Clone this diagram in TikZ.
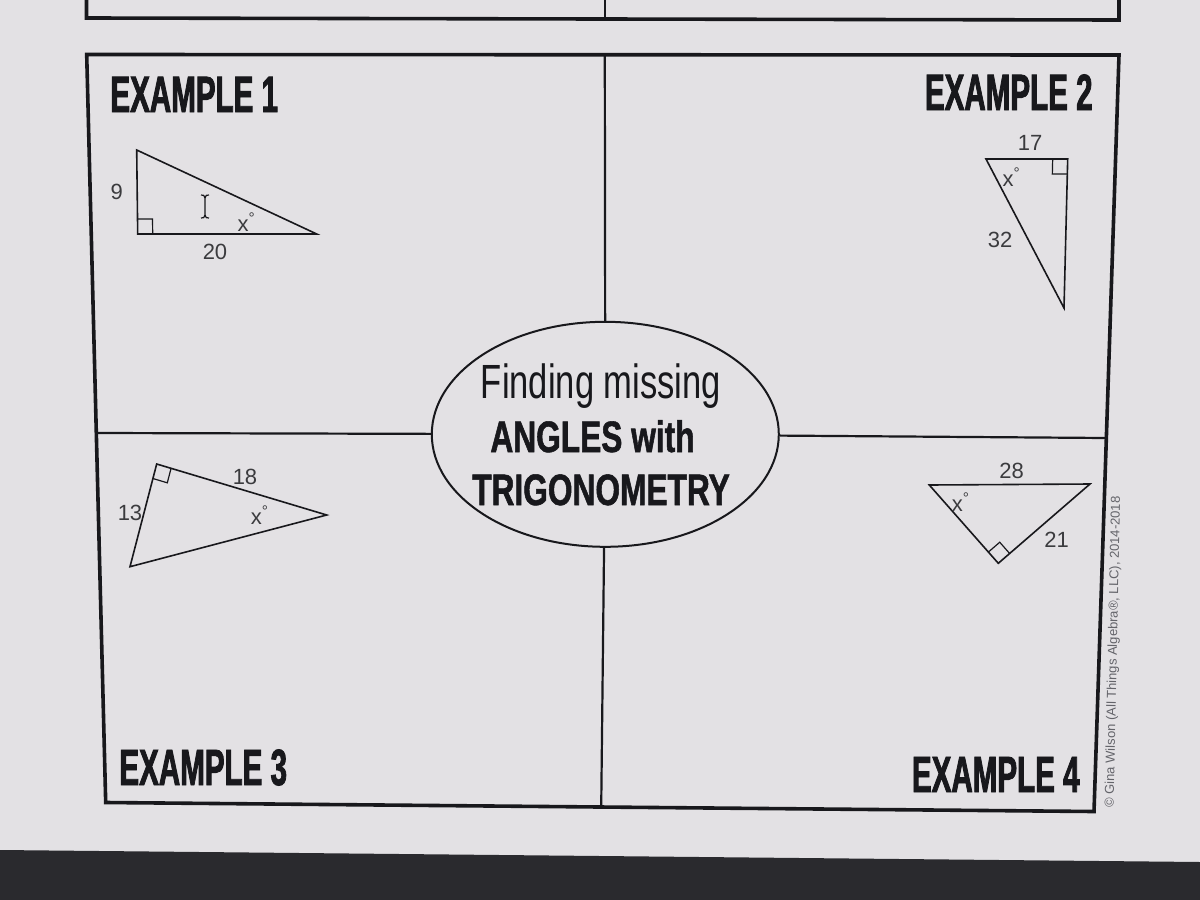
\documentclass[tikz,border=0pt]{standalone}
\usepackage{fontspec}
\setmainfont{Liberation Sans}
\newfontfamily\headfont[FakeStretch=0.58, BoldFeatures={FakeBold=1.6}]{Liberation Sans}
\newfontfamily\titlefont[FakeStretch=0.72, BoldFeatures={FakeBold=1.2}]{Liberation Sans}
\usetikzlibrary{positioning}
\usetikzlibrary{calc}
\usetikzlibrary{shapes.geometric}
\definecolor{paper}{RGB}{227,225,228}
\definecolor{ink}{RGB}{24,24,28}
\definecolor{bezel}{RGB}{42,42,46}
\definecolor{faint}{RGB}{100,100,106}

\tikzset{
  boxline/.style={draw=ink, line width=1.8pt, line join=miter},
  divline/.style={draw=ink, line width=1.1pt},
  tri/.style={draw=ink, line width=0.8pt, line join=miter},
  head/.style={font=\headfont\bfseries\fontsize{25.5}{26}\selectfont, text=ink, inner sep=0pt},
  lbl/.style={font=\fontsize{11}{11}\selectfont, text=ink!85, inner sep=0pt}
}

% right angle box: corner, end of one leg, end of the other leg
\newcommand{\ramark}[3]{%
  \coordinate (ra1) at ($(#1)!7.5pt!(#2)$);
  \coordinate (ra2) at ($(#1)!7.5pt!(#3)$);
  \draw[tri, line width=0.6pt] (ra1) -- ($(ra1)+(ra2)-(#1)$) -- (ra2);}

\begin{document}
\begin{tikzpicture}[x=0.5pt,y=0.5pt,yscale=-1,xscale=1]
\useasboundingbox (0,0) rectangle (1200,900);

%Shape: paper
\fill[paper] (0,0) rectangle (1200,900);
%Shape: screen edge
\fill[bezel] (0,850) -- (1200,862) -- (1200,900) -- (0,900) -- cycle;

%Shape: box of the page above
\draw[boxline] (86.5,-4) -- (86.5,18) -- (1119,20) -- (1119,-4);
\draw[divline] (604.6,-4) -- (604.6,19);

%Shape: main box
\coordinate (tl) at (86.7,54.5);
\coordinate (tr) at (1119,55);
\coordinate (br) at (1094,811.5);
\coordinate (bl) at (105.7,802.5);
\draw[boxline] (tl) -- (tr) -- (br) -- (bl) -- cycle;

%Shape: centre ellipse
\node (title) [ellipse, draw=ink, line width=1pt, minimum width=173.5pt, minimum height=112.5pt, inner sep=0pt] at (605.3,434.3) {};

%Shape: dividers
\coordinate (mt) at (604.8,55);
\coordinate (mb) at (601.2,808);
\coordinate (ml) at (96.3,433);
\coordinate (mr) at (1106.4,438);
\draw[divline] (mt) -- (title);
\draw[divline] (mb) -- (title);
\draw[divline] (ml) -- (title);
\draw[divline] (mr) -- (title);

% Text Node
\draw (601,398) node (tA) [anchor=base, inner sep=0pt, text=ink] {\titlefont\fontsize{24}{24}\selectfont Finding missing};
% Text Node
\draw (592.5,452) node (tB) [anchor=base, inner sep=0pt, text=ink] {\titlefont\bfseries\fontsize{22}{22}\selectfont ANGLES with};
% Text Node
\draw (601,505) node (tC) [anchor=base, inner sep=0pt, text=ink] {\titlefont\bfseries\fontsize{22}{22}\selectfont TRIGONOMETRY};

% Text Node
\draw (110,112) node (ex1) [anchor=base west, head] {EXAMPLE 1};
% Text Node
\draw (1093,110) node (ex2) [anchor=base east, head] {EXAMPLE 2};
% Text Node
\draw (119,785) node (ex3) [anchor=base west, head] {EXAMPLE 3};
% Text Node
\draw (1080,792) node (ex4) [anchor=base east, head] {EXAMPLE 4};

%Shape: triangle 1
\coordinate (a1) at (136.7,150);
\coordinate (c1) at (137.7,234);
\coordinate (b1) at (316.7,234);
\draw[tri] (a1) -- (c1) -- (b1) -- cycle;
\ramark{c1}{a1}{b1}
%Shape: text cursor
\draw[ink, line width=0.6pt] (201,195) .. controls (204,195) .. (205,198) -- (205,215) .. controls (204,218) .. (201,218);
\draw[ink, line width=0.6pt] (209,195) .. controls (206,195) .. (205,198) (205,215) .. controls (206,218) .. (209,218);
% Text Node
\draw (116.7,191.7) node (s1a) [lbl] {9};
% Text Node
\draw (215,251.7) node (s1b) [lbl] {20};
% Text Node
\draw (246.7,222) node (s1x) [lbl] {x\textsuperscript{°}};

%Shape: triangle 2
\coordinate (a2) at (986,159);
\coordinate (c2) at (1067.7,159);
\coordinate (b2) at (1064,308);
\draw[tri] (a2) -- (c2) -- (b2) -- cycle;
\ramark{c2}{a2}{b2}
% Text Node
\draw (1030,143) node (s2a) [lbl] {17};
% Text Node
\draw (1000,240) node (s2b) [lbl] {32};
% Text Node
\draw (1011.7,177) node (s2x) [lbl] {x\textsuperscript{°}};

%Shape: triangle 3
\coordinate (c3) at (156.7,464);
\coordinate (a3) at (130,566.7);
\coordinate (b3) at (326.7,515);
\draw[tri] (c3) -- (a3) -- (b3) -- cycle;
\ramark{c3}{a3}{b3}
% Text Node
\draw (130,513) node (s3a) [lbl] {13};
% Text Node
\draw (245,477) node (s3b) [lbl] {18};
% Text Node
\draw (260,515) node (s3x) [lbl] {x\textsuperscript{°}};

%Shape: triangle 4
\coordinate (a4) at (929.3,485);
\coordinate (b4) at (1090,484);
\coordinate (c4) at (998.3,563.3);
\draw[tri] (a4) -- (b4) -- (c4) -- cycle;
\ramark{c4}{a4}{b4}
% Text Node
\draw (1011.7,471) node (s4a) [lbl] {28};
% Text Node
\draw (1056.7,540) node (s4b) [lbl] {21};
% Text Node
\draw (961,501.7) node (s4x) [lbl] {x\textsuperscript{°}};

% Text Node
\draw (1113.5,652) node (cpy) [rotate=88.8, inner sep=0pt, text=faint, font=\fontsize{6.5}{7}\selectfont] {© Gina Wilson (All Things Algebra®, LLC), 2014-2018};

\end{tikzpicture}
\end{document}
